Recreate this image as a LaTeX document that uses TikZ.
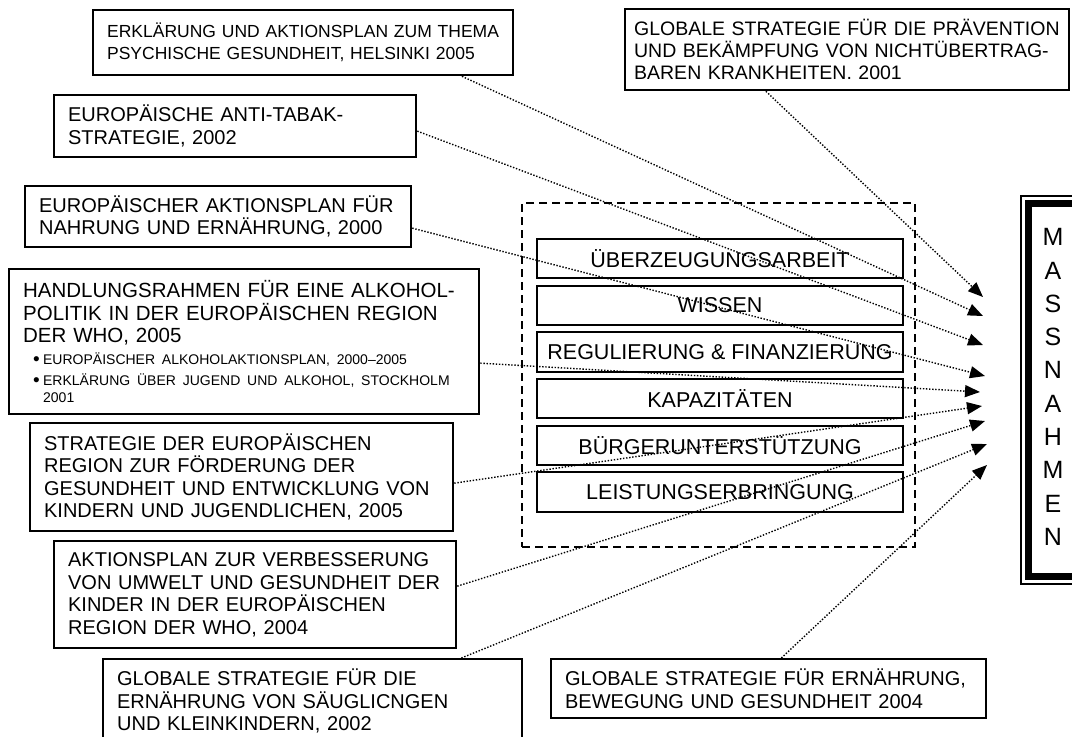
\documentclass[tikz,border=0pt]{standalone}
\usepackage{fontspec}
\setmainfont{Liberation Sans}
\usetikzlibrary{arrows.meta,calc}
\setlength{\parindent}{0pt}
\newcommand{\bigbullet}{\makebox[10pt][l]{\raisebox{-0.5pt}{\fontsize{19}{17}\selectfont•}}}
\begin{document}
\begin{tikzpicture}[x=1pt,y=-1pt,
  docbox/.style={draw, line width=2.3pt, anchor=north west, inner xsep=14pt, inner ysep=0pt, align=left, font=\fontsize{20}{22.5}\selectfont},
  rowbox/.style={draw, line width=2pt, minimum width=366pt, minimum height=39.5pt, inner sep=0pt, font=\fontsize{21.5}{22}\selectfont},
  conn/.style={line width=1.4pt, dash pattern=on 1.4pt off 1.7pt, -{Triangle[length=15pt,width=12pt]}},
]
\useasboundingbox (0,0) rectangle (1072,737);

% policy documents
\node[docbox, font=\fontsize{17.5}{22}\selectfont, minimum width=420, text width=392, minimum height=65] (A) at (92,9)
  {ERKLÄRUNG UND AKTIONSPLAN ZUM THEMA\\PSYCHISCHE GESUNDHEIT, HELSINKI 2005};
\node[docbox, inner xsep=9pt, font=\fontsize{19.5}{22}\selectfont, minimum width=444, text width=426, minimum height=81] (B) at (624,8)
  {GLOBALE STRATEGIE FÜR DIE PRÄVENTION\\UND BEKÄMPFUNG VON NICHTÜBERTRAG-\\BAREN KRANKHEITEN. 2001};
\node[docbox, minimum width=362, text width=334, minimum height=62] (C) at (53,94)
  {EUROPÄISCHE ANTI-TABAK-\\STRATEGIE, 2002};
\node[docbox, minimum width=386, text width=358, minimum height=61] (D) at (24,185)
  {EUROPÄISCHER AKTIONSPLAN FÜR\\NAHRUNG UND ERNÄHRUNG, 2000};
\node[docbox, font=\fontsize{20.5}{22.5}\selectfont, minimum width=470, text width=442, minimum height=145] (E) at (8,268)
  {HANDLUNGSRAHMEN FÜR EINE ALKOHOL-\\POLITIK IN DER EUROPÄISCHEN REGION\\DER WHO, 2005\par
   \vspace{5pt}{\fontsize{14}{17}\selectfont\hspace*{10pt}\bigbullet EUROPÄISCHER ALKOHOLAKTIONSPLAN, 2000–2005\par
   \vspace{4pt}\hspace*{10pt}\bigbullet ERKLÄRUNG ÜBER JUGEND UND ALKOHOL, STOCKHOLM\\\hspace*{20pt}2001\par}};
\node[docbox, minimum width=423, text width=395, minimum height=108] (F) at (29,422)
  {STRATEGIE DER EUROPÄISCHEN\\REGION ZUR FÖRDERUNG DER\\GESUNDHEIT UND ENTWICKLUNG VON\\KINDERN UND JUGENDLICHEN, 2005};
\node[docbox, minimum width=402, text width=374, minimum height=107] (G) at (53,540)
  {AKTIONSPLAN ZUR VERBESSERUNG\\VON UMWELT UND GESUNDHEIT DER\\KINDER IN DER EUROPÄISCHEN\\REGION DER WHO, 2004};
\node[docbox, minimum width=419, text width=391, minimum height=84] (H) at (102,658)
  {GLOBALE STRATEGIE FÜR DIE\\ERNÄHRUNG VON SÄUGLICNGEN\\UND KLEINKINDERN, 2002};
\node[docbox, minimum width=435, text width=407, minimum height=59] (I) at (550,658)
  {GLOBALE STRATEGIE FÜR ERNÄHRUNG,\\BEWEGUNG UND GESUNDHEIT 2004};

% central frame
\node[draw, line width=2pt, dash pattern=on 8pt off 5pt, minimum width=393, minimum height=344, anchor=north west, inner sep=0pt] (frame) at (521,202) {};
\node[rowbox] (r1) at (720,258.5) {ÜBERZEUGUNGSARBEIT};
\node[rowbox] (r2) at (720,305.5) {WISSEN};
\node[rowbox] (r3) at (720,352) {REGULIERUNG \& FINANZIERUNG};
\node[rowbox] (r4) at (720,398.5) {KAPAZITÄTEN};
\node[rowbox] (r5) at (720,445.5) {BÜRGERUNTERSTÜTZUNG};
\node[rowbox] (r6) at (720,492) {LEISTUNGSERBRINGUNG};

% Massnahmen
\draw[line width=1.7pt] (1020.8,195.8) rectangle (1095,584);
\draw[line width=6.5pt] (1028.3,203.3) rectangle (1095,576.7);
\node[font=\fontsize{25}{33.3}\selectfont, align=center, inner sep=0pt] (M) at (1053,387) {M\\A\\S\\S\\N\\A\\H\\M\\E\\N};

% arrow targets
\coordinate (t1) at (983,297);
\coordinate (t2) at (983,316);
\coordinate (t3) at (983,345);
\coordinate (t4) at (985,376);
\coordinate (t5) at (980,392);
\coordinate (t6) at (982,406);
\coordinate (t7) at (985,421);
\coordinate (t8) at (987,444);
\coordinate (t9) at (987,465);

% connectors
\draw[conn] ($(B.south west)!0.318!(B.south east)$) -- (t1);
\draw[conn] ($(A.south west)!0.876!(A.south east)$) -- (t2);
\draw[conn] ([yshift=-5pt]C.east) -- (t3);
\draw[conn] ([yshift=-11.5pt]D.east) -- (t4);
\draw[conn] ([yshift=-21.5pt]E.east) -- (t5);
\draw[conn] ([yshift=-6pt]F.east) -- (t6);
\draw[conn] ([yshift=8.5pt]G.east) -- (t7);
\draw[conn] ($(H.north west)!0.853!(H.north east)$) -- (t8);
\draw[conn] ($(I.north west)!0.529!(I.north east)$) -- (t9);
\end{tikzpicture}
\end{document}
